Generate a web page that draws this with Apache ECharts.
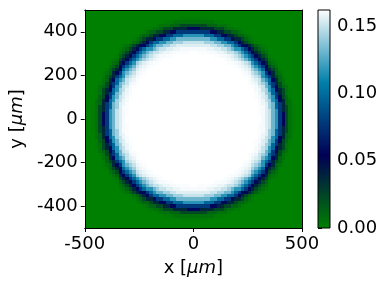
<!DOCTYPE html>
<html>
<head>
<meta charset="utf-8">
<script src="https://cdn.jsdelivr.net/npm/echarts@6/dist/echarts.min.js"></script>
<style>
html,body{margin:0;padding:0;background:#fff;}
#c{width:385px;height:288px;}
</style>
</head>
<body>
<div id="c"></div>
<script>
// ---- data ----
const xExtent = [-500, 500];
const yExtent = [-500, 500];
const xTicks = [-500, 0, 500];
const yTicks = [-400, -200, 0, 200, 400];
const cbarTicks = [0, 0.05, 0.10, 0.15];
const cbarMax = 0.162;
const gridCells = 64;               // cells per side of the field
// radial profile of the field (radius in µm -> value)
const profileR = [300, 310, 320, 330, 340, 350, 360, 370, 380, 390, 400, 410, 420, 430, 440, 450, 460, 470, 480, 490, 500];
const profileV = [0.162, 0.161, 0.160, 0.158, 0.155, 0.150, 0.142, 0.131, 0.116, 0.098, 0.078, 0.057, 0.038, 0.023, 0.012, 0.006, 0.002, 0.0, 0.0, 0.0, 0.0];
const cmapColors = ['#008000', '#000055', '#0080aa', '#ffffff']; // ocean

// ---- build cells from the profile (nearest radius sample) ----
const cellSize = (xExtent[1] - xExtent[0]) / gridCells;
const cells = [];
for (let iy = 0; iy < gridCells; iy++) {
  for (let ix = 0; ix < gridCells; ix++) {
    const cx = xExtent[0] + (ix + 0.5) * cellSize;
    const cy = yExtent[0] + (iy + 0.5) * cellSize;
    const r = Math.sqrt(cx * cx + cy * cy);
    let k = Math.round((r - profileR[0]) / (profileR[1] - profileR[0]));
    k = Math.max(0, Math.min(profileR.length - 1, k));
    cells.push([cx, cy, profileV[k]]);
  }
}

const FONT = 'DejaVu Sans';
const FS = 18;
const chart = echarts.init(document.getElementById('c'), null, {renderer: 'canvas'});

function frameAxis(base) {
  return Object.assign({
    axisLine: {show: true, onZero: false, lineStyle: {color: '#000', width: 1}},
    axisTick: {show: false},
    axisLabel: {show: false},
    splitLine: {show: false},
    z: 10
  }, base);
}

const option = {
  backgroundColor: '#fff',
  animation: false,
  grid: [
    {left: 84, top: 10, width: 218, height: 218},
    {left: 318, top: 10, width: 12, height: 218}
  ],
  visualMap: {
    type: 'continuous', show: false, min: 0, max: cbarMax, dimension: 2,
    seriesIndex: 0, inRange: {color: cmapColors}
  },
  xAxis: [
    {
      type: 'value', gridIndex: 0, min: xExtent[0], max: xExtent[1], position: 'bottom',
      axisLine: {show: true, onZero: false, lineStyle: {color: '#000', width: 1}},
      axisTick: {show: true, length: 4, lineStyle: {color: '#000'}, customValues: xTicks},
      axisLabel: {show: true, customValues: xTicks, fontFamily: FONT, fontSize: FS, color: '#000', margin: 7},
      splitLine: {show: false},
      name: 'x [{i|μm}]', nameLocation: 'middle', nameGap: 31,
      nameTextStyle: {fontFamily: FONT, fontSize: FS, color: '#000',
        rich: {i: {fontFamily: FONT, fontSize: FS, fontStyle: 'italic', color: '#000'}}},
      z: 10
    },
    frameAxis({type: 'value', gridIndex: 0, min: xExtent[0], max: xExtent[1], position: 'top'}),
    {type: 'value', gridIndex: 1, min: 0, max: 1, show: false}
  ],
  yAxis: [
    {
      type: 'value', gridIndex: 0, min: yExtent[0], max: yExtent[1], position: 'left',
      axisLine: {show: true, onZero: false, lineStyle: {color: '#000', width: 1}},
      axisTick: {show: true, length: 4, lineStyle: {color: '#000'}, customValues: yTicks},
      axisLabel: {show: true, customValues: yTicks, fontFamily: FONT, fontSize: FS, color: '#000', margin: 7},
      splitLine: {show: false},
      name: 'y [{i|μm}]', nameLocation: 'middle', nameGap: 56, nameRotate: 90,
      nameTextStyle: {fontFamily: FONT, fontSize: FS, color: '#000',
        rich: {i: {fontFamily: FONT, fontSize: FS, fontStyle: 'italic', color: '#000'}}},
      z: 10
    },
    frameAxis({type: 'value', gridIndex: 0, min: yExtent[0], max: yExtent[1], position: 'right'}),
    {
      type: 'value', gridIndex: 1, min: 0, max: cbarMax, position: 'right',
      axisLine: {show: false},
      axisTick: {show: true, length: 4, lineStyle: {color: '#000'}, customValues: cbarTicks},
      axisLabel: {show: true, customValues: cbarTicks, fontFamily: FONT, fontSize: FS, color: '#000', margin: 7,
        formatter: v => v.toFixed(2)},
      splitLine: {show: false}
    }
  ],
  series: [
    {
      type: 'custom', xAxisIndex: 0, yAxisIndex: 0, data: cells, z: 2,
      encode: {x: 0, y: 1},
      renderItem: function (params, api) {
        const x = api.value(0), y = api.value(1), h = cellSize / 2;
        const p0 = api.coord([x - h, y + h]);
        const p1 = api.coord([x + h, y - h]);
        const x0 = Math.round(p0[0]), y0 = Math.round(p0[1]);
        const x1 = Math.round(p1[0]), y1 = Math.round(p1[1]);
        return {type: 'rect', shape: {x: x0, y: y0, width: x1 - x0, height: y1 - y0},
          style: {fill: api.visual('color')}};
      }
    },
    {
      type: 'custom', xAxisIndex: 2, yAxisIndex: 2, data: [[0, 0]], z: 2,
      renderItem: function (params, api) {
        const p0 = api.coord([0, cbarMax]);
        const p1 = api.coord([1, 0]);
        const stops = cmapColors.map((c, i) => ({offset: i / (cmapColors.length - 1), color: c}));
        return {type: 'rect', shape: {x: p0[0], y: p0[1], width: p1[0] - p0[0], height: p1[1] - p0[1]},
          style: {fill: new echarts.graphic.LinearGradient(0, 1, 0, 0, stops), stroke: '#000', lineWidth: 1}};
      }
    }
  ]
};
chart.setOption(option);
</script>
</body>
</html>
